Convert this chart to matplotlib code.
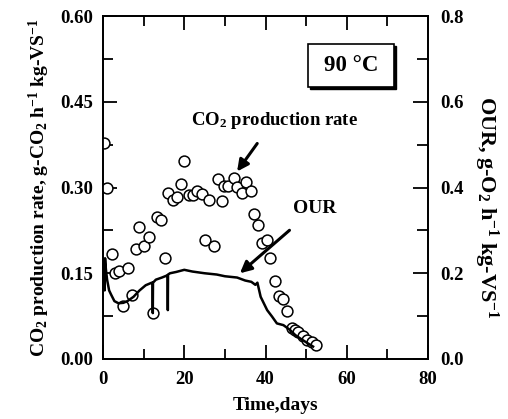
import matplotlib
matplotlib.use("Agg")
import matplotlib.pyplot as plt
from matplotlib.patches import Rectangle
from matplotlib.ticker import MultipleLocator, FormatStrFormatter

plt.rcParams['font.family'] = ['Liberation Serif', 'DejaVu Serif']
plt.rcParams['font.weight'] = 'bold'
plt.rcParams['mathtext.fontset'] = 'custom'
plt.rcParams['mathtext.rm'] = 'Liberation Serif:bold'
plt.rcParams['mathtext.bf'] = 'Liberation Serif:bold'
plt.rcParams['mathtext.it'] = 'Liberation Serif:bold'
plt.rcParams['mathtext.default'] = 'rm'

# CO2 production rate (days, g-CO2/h/kg-VS)
co2_days = [0.3, 1.1, 2.1, 3.0, 4.0, 5.0, 6.2, 7.1, 8.1, 8.9, 10.2, 11.2, 12.2,
            13.2, 14.2, 15.3, 16.1, 17.2, 18.1, 19.1, 20.0, 21.1, 22.2, 23.1,
            24.3, 25.1, 26.1, 27.2, 28.2, 29.2, 29.9, 30.8, 32.2, 33.1, 34.1,
            35.2, 36.4, 37.2, 38.2, 39.1, 40.3, 41.1, 42.3, 43.2, 44.2, 45.2,
            46.4, 47.3, 48.1, 49.3, 50.3, 51.4, 52.4]
co2_rate = [0.377, 0.299, 0.183, 0.151, 0.154, 0.092, 0.160, 0.112, 0.192, 0.231,
            0.198, 0.214, 0.081, 0.249, 0.244, 0.177, 0.290, 0.279, 0.284, 0.306,
            0.346, 0.287, 0.287, 0.294, 0.289, 0.209, 0.279, 0.198, 0.314, 0.276,
            0.303, 0.303, 0.316, 0.301, 0.291, 0.309, 0.294, 0.253, 0.234, 0.203,
            0.209, 0.176, 0.136, 0.111, 0.105, 0.084, 0.054, 0.051, 0.047, 0.040,
            0.034, 0.029, 0.024]

# OUR (days, g-O2/h/kg-VS)
our_days = [0.0, 0.2, 0.4, 0.5, 0.7, 1.0, 1.5, 2.0, 2.8, 3.8, 5.0, 6.0, 7.5, 9.0,
            10.5, 12.0, 12.2, 12.25, 12.3, 13.0, 14.5, 15.8, 15.9, 15.95, 16.0,
            16.5, 18.0, 20.0, 22.0, 25.0, 28.0, 30.0, 33.0, 35.0, 36.5, 37.5,
            38.0, 38.8, 40.4, 41.6, 42.8, 44.4, 46.0, 47.3, 49.0, 50.5, 51.7]
our_rate = [0.17, 0.20, 0.16, 0.235, 0.21, 0.185, 0.16, 0.15, 0.135, 0.13, 0.131,
            0.135, 0.145, 0.16, 0.172, 0.178, 0.178, 0.107, 0.178, 0.185, 0.19,
            0.195, 0.195, 0.114, 0.197, 0.20, 0.203, 0.208, 0.204, 0.20, 0.197,
            0.193, 0.19, 0.183, 0.18, 0.173, 0.178, 0.145, 0.114, 0.099, 0.083,
            0.079, 0.068, 0.056, 0.045, 0.036, 0.029]

fig = plt.figure(figsize=(5.08, 4.19), dpi=100)
ax = fig.add_axes([0.2028, 0.1432, 0.6398, 0.8186])
ax2 = ax.twinx()

ax.plot(co2_days, co2_rate, 'o', ms=7.8, mfc='white', mec='black', mew=1.1, zorder=3)
ax2.plot(our_days, our_rate, '-', color='black', lw=1.8)

ax.set_xlim(0, 80)
ax.set_ylim(0, 0.6)
ax2.set_ylim(0, 0.8)

ax.xaxis.set_major_locator(MultipleLocator(20))
ax.xaxis.set_minor_locator(MultipleLocator(10))
ax.yaxis.set_major_locator(MultipleLocator(0.15))
ax.yaxis.set_minor_locator(MultipleLocator(0.075))
ax.yaxis.set_major_formatter(FormatStrFormatter('%.2f'))
ax2.yaxis.set_major_locator(MultipleLocator(0.2))
ax2.yaxis.set_minor_locator(MultipleLocator(0.1))
ax2.yaxis.set_major_formatter(FormatStrFormatter('%.1f'))

ax.tick_params(axis='x', which='both', direction='in', top=True, bottom=True,
               labelsize=13.5, pad=9)
ax.tick_params(axis='y', which='both', direction='in', left=True, right=False,
               labelsize=13.5, pad=7)
ax2.tick_params(axis='y', which='both', direction='in', right=True, left=False,
                labelsize=13.5, pad=9)
ax.tick_params(which='major', length=10, width=1.3)
ax.tick_params(which='minor', length=7, width=1.3)
ax2.tick_params(which='major', length=11, width=1.3)
ax2.tick_params(which='minor', length=8, width=1.3)
for a in (ax, ax2):
    for s in a.spines.values():
        s.set_linewidth(1.3)
    for lab in a.get_xticklabels() + a.get_yticklabels():
        lab.set_fontweight('bold')

ax.set_xlabel('Time,days', fontsize=14, fontweight='bold', labelpad=6)
ax.xaxis.label.set_x(0.53)
ax.set_ylabel(r'CO$_2$ production rate, g-CO$_2$ h$^{-1}$ kg-VS$^{-1}$',
              fontsize=14, fontweight='bold', labelpad=6)
ax2.set_ylabel(r'OUR, g-O$_2$ h$^{-1}$ kg-VS$^{-1}$', rotation=270,
               fontsize=16, fontweight='bold', labelpad=26)
ax2.yaxis.label.set_y(0.442)

# temperature box with shadow
x0, y0, w, h = 0.631, 0.793, 0.264, 0.125
ax.add_patch(Rectangle((x0 + 0.006, y0 - 0.006), w, h, transform=ax.transAxes,
                       facecolor='black', edgecolor='black', zorder=4, clip_on=False))
ax.add_patch(Rectangle((x0, y0), w, h, transform=ax.transAxes,
                       facecolor='white', edgecolor='black', lw=1.2, zorder=5, clip_on=False))
ax.text(x0 + w / 2, y0 + h / 2, '90 °C', transform=ax.transAxes, ha='center',
        va='center', fontsize=16.5, fontweight='bold', zorder=6)

ax.annotate(r'CO$_2$ production rate', xy=(33.0, 0.328), xytext=(42.1, 0.418),
            ha='center', va='center', fontsize=13.5, fontweight='bold',
            arrowprops=dict(arrowstyle='-|>', color='black', lw=2.2,
                            mutation_scale=17, shrinkA=9, shrinkB=0))
ax.annotate('OUR', xy=(33.7, 0.150), xytext=(52.2, 0.264),
            ha='center', va='center', fontsize=14, fontweight='bold',
            arrowprops=dict(arrowstyle='-|>', color='black', lw=2.2,
                            mutation_scale=17, shrinkA=12, shrinkB=0))

fig.savefig('out.png', dpi=100)
